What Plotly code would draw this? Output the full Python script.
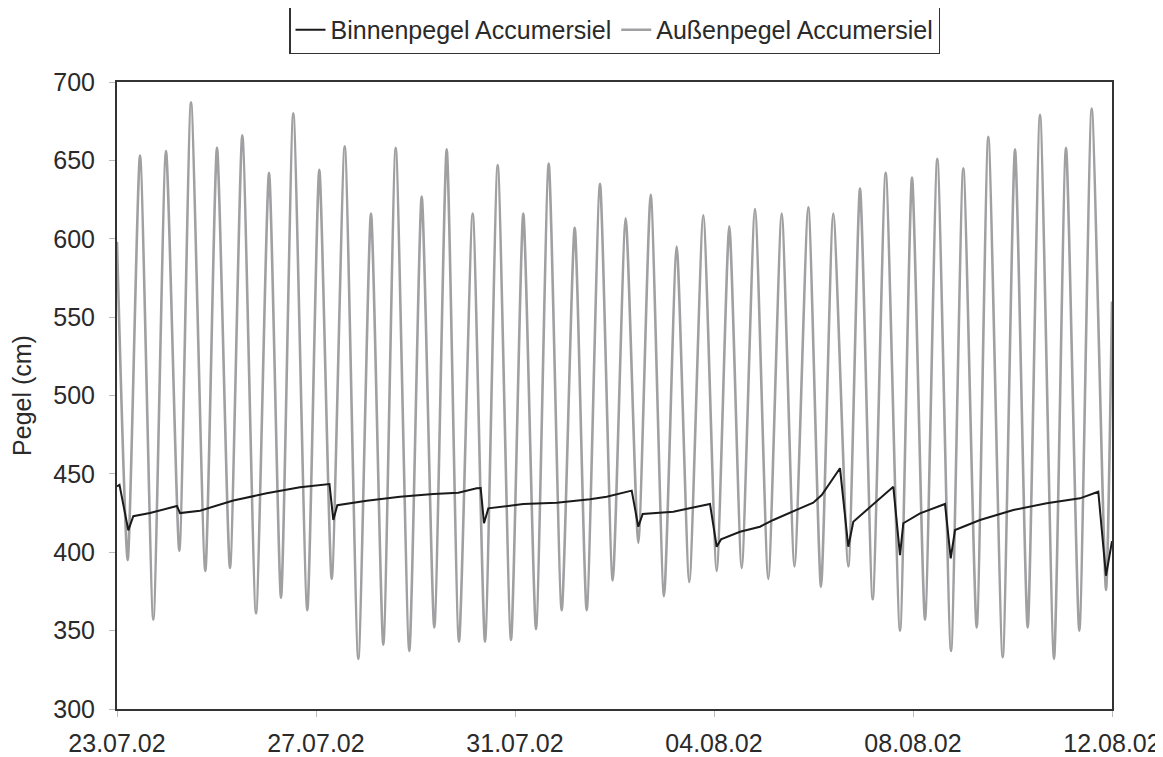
import pandas as pd
import plotly.graph_objects as go

# Außenpegel (outer tide gauge): hours since 23.07.02 00:00 and level (cm), turning points
aussen_hours = [0, 5.16, 11.10, 17.51, 23.64, 30.05, 35.70, 42.60, 48.24, 54.51, 60.45, 67.06, 73.33,
                79.12, 85.05, 91.80, 97.59, 103.58, 109.85, 116.41, 122.53, 128.47, 134.45, 141.01,
                146.99, 153.07, 159.05, 164.98, 171.59, 177.53, 183.65, 190.07, 196.00, 202.13,
                208.26, 214.53, 220.80, 226.59, 233.00, 239.13, 245.40, 251.48, 257.46, 263.88,
                270.00, 276.08, 282.84, 289.30, 295.38, 301.36, 307.78, 314.19, 320.66, 326.83,
                333.49, 339.62, 345.55, 352.79, 358.43, 364.56, 370.83, 377.73, 383.52, 389.79,
                395.73, 402.33, 408.27, 414.73, 420.33, 427.27, 433.21, 439.33, 445.27, 452.02,
                457.81, 464.23, 470.21, 477.10, 480.0]
aussen_cm = [598, 395, 653, 357, 656, 401, 687, 388, 658, 390, 666, 361, 642,
             371, 680, 363, 644, 383, 659, 332, 616, 341, 658, 337,
             627, 352, 657, 343, 616, 343, 647, 344, 616, 351,
             648, 363, 607, 363, 635, 382, 613, 406, 628, 372,
             595, 381, 615, 388, 608, 390, 619, 383, 616, 391,
             620, 378, 616, 391, 632, 370, 642, 350, 639, 357,
             651, 337, 645, 352, 665, 333, 657, 352, 679, 332,
             658, 350, 683, 376, 560]

# Binnenpegel (inner gauge)
binnen_hours = [0, 1.2, 5.45, 7.86, 15.92, 27.16, 28.9, 30.39, 40.04, 56.1, 72.2, 88.28, 101.16,
                102.5, 104.35, 106.28, 120.46, 136.52, 152.59, 164.65, 173.52, 175.45, 177.05,
                179.12, 196.0, 212.12, 228.18, 236.24, 248.3, 251.48, 253.6, 268.37, 286.07,
                289.3, 291.38, 300.54, 310.19, 316.6, 329.48, 335.9, 339.96, 348.78, 352.79,
                355.2, 361.67, 374.5, 377.73, 379.33, 387.38, 399.44, 402.19, 404.27, 416.32,
                432.39, 448.5, 464.56, 473.39, 477.1, 480.0]
binnen_cm = [442, 443, 414, 423, 425, 429, 429.5, 425, 426.5, 433, 437.6, 441.4, 443.5,
             443.5, 420.6, 430, 432.9, 435.4, 437.2, 438, 440.8, 441, 418.5,
             428, 430.8, 431.6, 433.8, 435.4, 439.3, 416.3, 424.4, 425.9, 430.8,
             403.5, 408.2, 413.1, 416.3, 420.6, 428, 431.6, 436.5, 453.6, 403.5,
             419.5, 427, 441.8, 398.2, 418.5, 424.8, 430.8, 396.1, 414.2, 420.6,
             427, 431.2, 434.4, 438.6, 385, 407]

start = pd.Timestamp("2002-07-23")
aussen_t = start + pd.to_timedelta(aussen_hours, unit="h")
binnen_t = start + pd.to_timedelta(binnen_hours, unit="h")

font = "Liberation Sans, Arial, sans-serif"
txt = "#2a2a2a"

fig = go.Figure()
fig.add_trace(go.Scatter(x=aussen_t, y=aussen_cm, mode="lines", name="Außenpegel Accumersiel",
                         line=dict(color="#a0a0a3", width=2.6, shape="spline", smoothing=0.6),
                         legendrank=2))
fig.add_trace(go.Scatter(x=binnen_t, y=binnen_cm, mode="lines", name="Binnenpegel Accumersiel",
                         line=dict(color="#1a1a1a", width=2), legendrank=1))

fig.update_layout(
    width=1155, height=749,
    margin=dict(l=109, r=51, t=74, b=48, autoexpand=False),
    paper_bgcolor="white", plot_bgcolor="white",
    font=dict(family=font, size=25, color=txt),
    showlegend=True,
    legend=dict(orientation="h", x=0.5, xanchor="center", y=1.083, yanchor="middle",
                bordercolor="#333333", borderwidth=1.5, font=dict(size=25, color=txt),
                itemwidth=30, tracegroupgap=0),
    xaxis=dict(
        type="date",
        range=["2002-07-23", "2002-08-12"],
        tick0="2002-07-23", dtick=4 * 86400000,
        tickformat="%d.%m.%y",
        showgrid=False, zeroline=False,
        showline=True, linecolor="#333333", linewidth=2, mirror=True,
        ticks="outside", ticklen=6, tickcolor="#bbbbbb",
        ticklabelstandoff=5,
        tickfont=dict(size=25, color=txt),
    ),
    yaxis=dict(
        range=[300, 700], dtick=50,
        showgrid=False, zeroline=False,
        showline=True, linecolor="#333333", linewidth=2, mirror=True,
        ticks="outside", ticklen=6, tickcolor="#bbbbbb",
        ticklabelstandoff=9,
        tickfont=dict(size=25, color=txt),
        title=dict(text="Pegel (cm)", font=dict(size=25, color=txt), standoff=20),
    ),
)

fig.write_html("out.html")
